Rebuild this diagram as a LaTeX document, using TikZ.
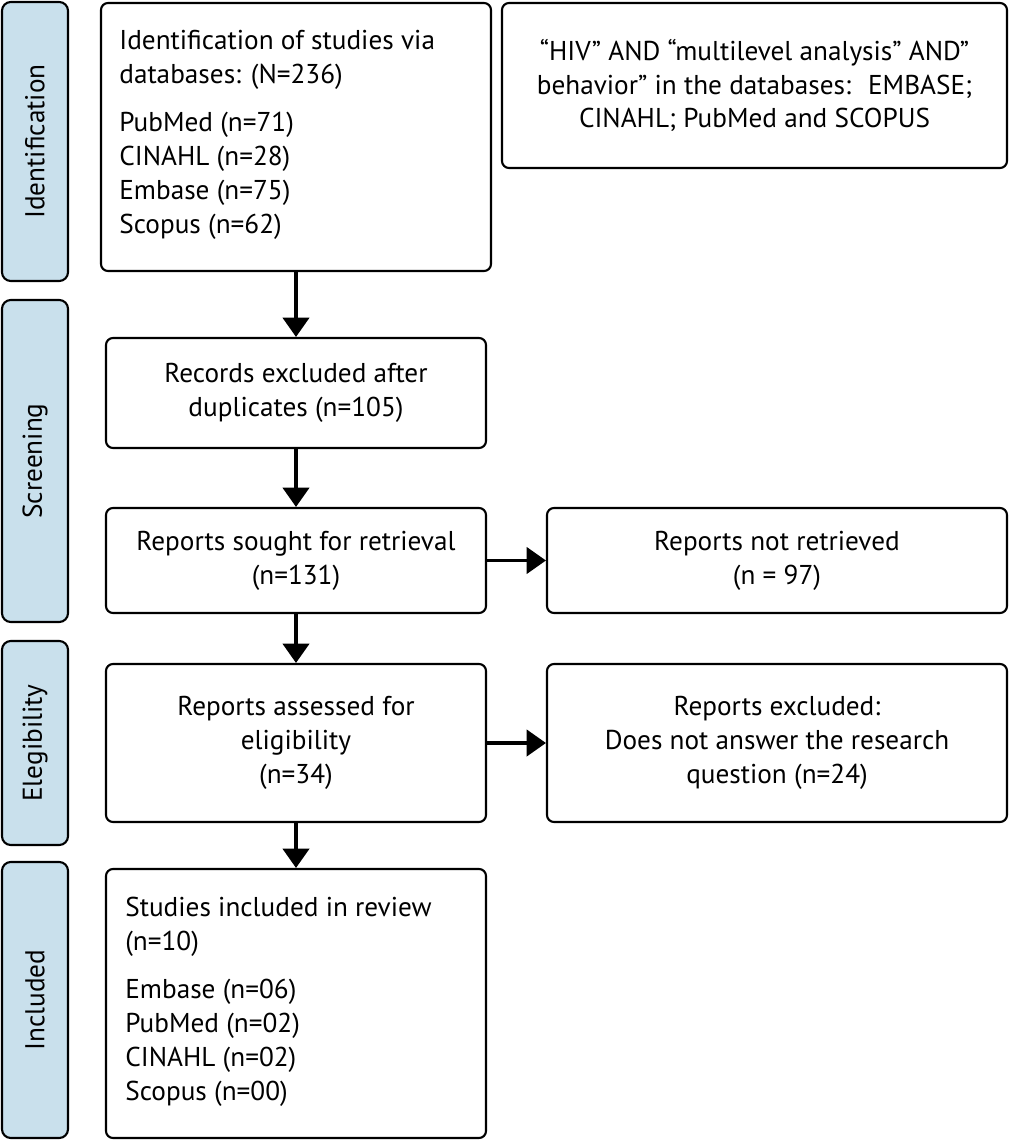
\documentclass[tikz,border=0pt]{standalone}
\usepackage{fontspec}
\setmainfont{PT Sans}
\usetikzlibrary{arrows.meta}
\definecolor{sidefill}{HTML}{C9E0EC}
\tikzset{
  txt/.style={font=\fontsize{15.5}{19.3}\selectfont},
  box/.style={draw, line width=1.2pt, rounded corners=4pt, inner sep=0pt, txt},
  side/.style={draw, line width=1.2pt, rounded corners=5pt, fill=sidefill, inner sep=0pt},
  flow/.style={-{Triangle[length=11pt,width=15pt]}, line width=1.8pt}
}
\begin{document}
\begin{tikzpicture}[x=0.02cm,y=-0.02cm]
  \useasboundingbox (0,0) rectangle (1009,1142);
  % side labels
  \node[side, minimum width=66*0.02cm, minimum height=279*0.02cm] (sid) at (35,141.5) {};
  \node[rotate=90, txt] at (sid) {Identification};
  \node[side, minimum width=66*0.02cm, minimum height=322*0.02cm] (sscr) at (35,461) {};
  \node[rotate=90, txt] at (sscr) {Screening};
  \node[side, minimum width=66*0.02cm, minimum height=204*0.02cm] (sel) at (35,743) {};
  \node[rotate=90, txt] at (sel) {Elegibility};
  \node[side, minimum width=66*0.02cm, minimum height=276*0.02cm] (sinc) at (35,1000) {};
  \node[rotate=90, txt] at (sinc) {Included};
  % boxes
  \node[box, minimum width=390*0.02cm, minimum height=268*0.02cm] (ident) at (296,137) {};
  \node[anchor=north west, align=left, txt, inner sep=0pt] at (119,30)
    {Identification of studies via\\databases: (N=236)\\[8pt]PubMed (n=71)\\CINAHL (n=28)\\Embase (n=75)\\Scopus (n=62)};
  \node[box, minimum width=505*0.02cm, minimum height=165*0.02cm, align=center] (search) at (754.5,85.5)
    {“HIV” AND “multilevel analysis” AND”\\behavior” in the databases:~ EMBASE;\\CINAHL; PubMed and SCOPUS};
  \node[box, minimum width=380*0.02cm, minimum height=110*0.02cm, align=center] (dup) at (296,393)
    {Records excluded after\\duplicates (n=105)};
  \node[box, minimum width=380*0.02cm, minimum height=105*0.02cm, align=center] (sought) at (296,560.5)
    {Reports sought for retrieval\\(n=131)};
  \node[box, minimum width=460*0.02cm, minimum height=105*0.02cm, align=center] (notret) at (777,560.5)
    {Reports not retrieved\\(n = 97)};
  \node[box, minimum width=380*0.02cm, minimum height=158*0.02cm, align=center] (assess) at (296,743)
    {Reports assessed for\\eligibility\\(n=34)};
  \node[box, minimum width=460*0.02cm, minimum height=158*0.02cm, align=center] (excl) at (777,743)
    {Reports excluded:\\Does not answer the research\\question (n=24)};
  \node[box, minimum width=380*0.02cm, minimum height=269*0.02cm] (incl) at (296,1003.5) {};
  \node[anchor=north west, align=left, txt, inner sep=0pt] at (125,897)
    {Studies included in review\\(n=10)\\[8pt]Embase (n=06)\\PubMed (n=02)\\CINAHL (n=02)\\Scopus (n=00)};
  % arrows
  \draw[flow] (ident) -- (dup);
  \draw[flow] (dup) -- (sought);
  \draw[flow] (sought) -- (assess);
  \draw[flow] (assess) -- (incl);
  \draw[flow] (sought) -- (notret);
  \draw[flow] (assess) -- (excl);
\end{tikzpicture}
\end{document}
